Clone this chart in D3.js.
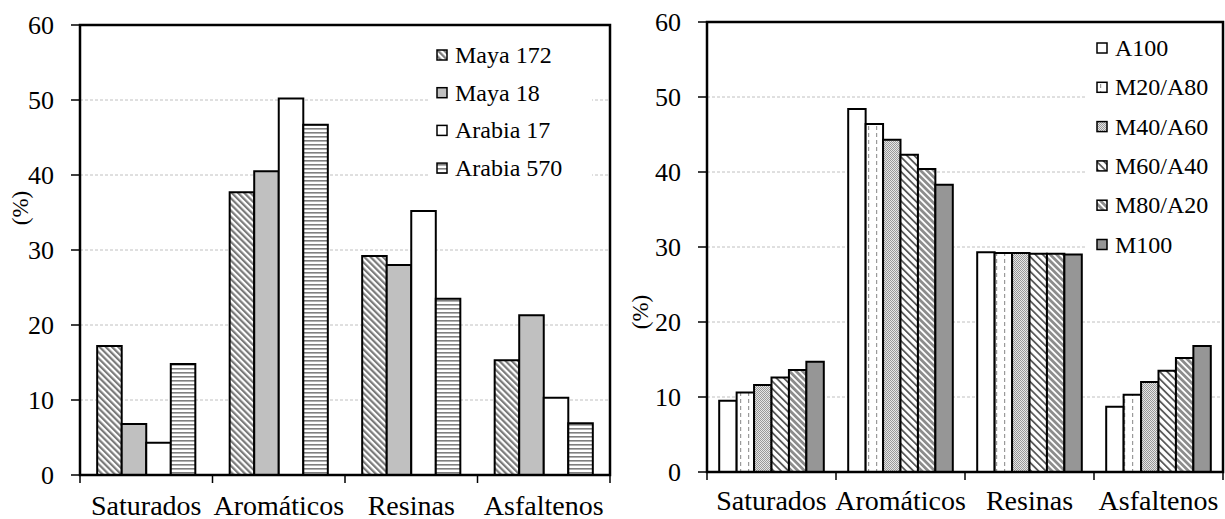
<!DOCTYPE html>
<html><head><meta charset="utf-8">
<script src="https://cdn.jsdelivr.net/npm/d3@7"></script>
</head>
<body style="margin:0">
<svg id="c" width="1225" height="519"></svg>
<script>
// ---- data ----
const categories = ["Saturados","Aromáticos","Resinas","Asfaltenos"];
const yTicks = [0,10,20,30,40,50,60];

const leftSeries = ["Maya 172","Maya 18","Arabia 17","Arabia 570"];
const maya172   = [17.2, 37.7, 29.2, 15.3];
const maya18    = [6.8, 40.5, 28.0, 21.3];
const arabia17  = [4.3, 50.2, 35.2, 10.3];
const arabia570 = [14.8, 46.7, 23.5, 6.9];

const rightSeries = ["A100","M20/A80","M40/A60","M60/A40","M80/A20","M100"];
const a100   = [9.5, 48.4, 29.3, 8.7];
const m20a80 = [10.6, 46.4, 29.2, 10.3];
const m40a60 = [11.6, 44.3, 29.2, 12.0];
const m60a40 = [12.6, 42.3, 29.1, 13.5];
const m80a20 = [13.6, 40.4, 29.1, 15.2];
const m100   = [14.7, 38.3, 29.0, 16.8];

const FONT = "Liberation Serif";
const svg = d3.select("#c");
const defs = svg.append("defs");

// patterns
function stripes(id, color, period, w, angle){
  const p = defs.append("pattern").attr("id",id).attr("patternUnits","userSpaceOnUse")
    .attr("width",period).attr("height",period).attr("patternTransform",`rotate(${angle})`);
  p.append("rect").attr("width",period).attr("height",period).attr("fill","#fff");
  p.append("rect").attr("width",w).attr("height",period).attr("fill",color);
}
stripes("pMaya172","#7a7a7a",4.4,2.2,-45);
stripes("pM60","#5a5a5a",5.2,1.8,-45);
stripes("pM80","#8c8c8c",4.6,2.8,-45);
(function(){
  const p = defs.append("pattern").attr("id","pHoriz").attr("patternUnits","userSpaceOnUse")
    .attr("width",4).attr("height",4);
  p.append("rect").attr("width",4).attr("height",4).attr("fill","#fff");
  p.append("rect").attr("width",4).attr("height",1.6).attr("fill","#808080");
})();
(function(){
  const p = defs.append("pattern").attr("id","pVdash").attr("patternUnits","userSpaceOnUse")
    .attr("width",8).attr("height",7);
  p.append("rect").attr("width",8).attr("height",7).attr("fill","#fff");
  p.append("rect").attr("x",4).attr("y",0).attr("width",1.2).attr("height",4).attr("fill","#9a9a9a");
})();
(function(){
  const p = defs.append("pattern").attr("id","pCheck").attr("patternUnits","userSpaceOnUse")
    .attr("width",2).attr("height",2);
  p.append("rect").attr("width",2).attr("height",2).attr("fill","#e6e6e6");
  p.append("rect").attr("width",1).attr("height",1).attr("fill","#999");
  p.append("rect").attr("x",1).attr("y",1).attr("width",1).attr("height",1).attr("fill","#999");
})();

const leftFills = ["url(#pMaya172)","#c0c0c0","#ffffff","url(#pHoriz)"];
const rightFills = ["#ffffff","url(#pVdash)","url(#pCheck)","url(#pM60)","url(#pM80)","#969696"];

function chart(cfg){
  const g = svg.append("g");
  const x0 = d3.scaleBand().domain(categories).range([cfg.x0,cfg.x1]).padding(0);
  const x1 = d3.scaleBand().domain(cfg.series).range([0,x0.bandwidth()]).paddingInner(0).paddingOuter(0.7);
  const y = d3.scaleLinear().domain([0,60]).range([cfg.y0,cfg.y1]);

  // grid
  g.append("g").selectAll("line").data(yTicks.filter(t=>t>0&&t<60)).join("line")
    .attr("x1",cfg.x0).attr("x2",cfg.x1).attr("y1",d=>y(d)).attr("y2",d=>y(d))
    .attr("stroke","#b0b0b0").attr("stroke-width",0.8).attr("stroke-dasharray","3,2");

  // legend background
  g.append("rect").attr("x",cfg.lgBox[0]).attr("y",cfg.lgBox[1]).attr("width",cfg.lgBox[2]).attr("height",cfg.lgBox[3]).attr("fill","#fff");

  // bars
  cfg.series.forEach((s,i)=>{
    g.append("g").selectAll("rect").data(categories.map((c,j)=>({c,v:cfg.values[i][j]}))).join("rect")
      .attr("x",d=>x0(d.c)+x1(s)).attr("width",x1.bandwidth())
      .attr("y",d=>y(d.v)).attr("height",d=>y(0)-y(d.v))
      .attr("fill",cfg.fills[i]).attr("stroke","#000").attr("stroke-width",2);
  });

  // y ticks and labels
  g.append("g").selectAll("line").data(yTicks).join("line")
    .attr("x1",cfg.x0-9).attr("x2",cfg.x0).attr("y1",d=>y(d)).attr("y2",d=>y(d))
    .attr("stroke","#000").attr("stroke-width",1.5);
  g.append("g").selectAll("text").data(yTicks).join("text")
    .attr("x",cfg.x0-26).attr("y",d=>y(d)).attr("dy","0.34em")
    .attr("text-anchor","end").attr("font-size",26).style("font-family",FONT)
    .text(d=>d);

  // x axis ticks at band edges + labels
  const edges = categories.map(c=>x0(c)).concat([cfg.x1]);
  g.append("g").selectAll("line").data(edges).join("line")
    .attr("x1",d=>d).attr("x2",d=>d).attr("y1",cfg.y0).attr("y2",cfg.y0+8)
    .attr("stroke","#000").attr("stroke-width",1.5);
  g.append("g").selectAll("text").data(categories).join("text")
    .attr("x",c=>x0(c)+x0.bandwidth()/2).attr("y",cfg.xlabY)
    .attr("text-anchor","middle").attr("font-size",28).style("font-family",FONT).text(c=>c);

  // frame
  g.append("rect").attr("x",cfg.x0).attr("y",cfg.y1).attr("width",cfg.x1-cfg.x0).attr("height",cfg.y0-cfg.y1)
    .attr("fill","none").attr("stroke","#000").attr("stroke-width",2.5);

  // y label
  g.append("text").attr("transform",`translate(${cfg.ylab[0]},${cfg.ylab[1]}) rotate(-90)`)
    .attr("text-anchor","middle").attr("font-size",23).style("font-family",FONT).text("(%)");

  // legend
  const lg = g.append("g");
  cfg.series.forEach((s,i)=>{
    const cy = cfg.lg[1] + i*cfg.lg[2];
    lg.append("rect").attr("x",cfg.lg[0]).attr("y",cy-5).attr("width",10).attr("height",10)
      .attr("fill",cfg.fills[i]).attr("stroke","#000").attr("stroke-width",1.5);
    lg.append("text").attr("x",cfg.lg[0]+18).attr("y",cy+8).attr("font-size",24)
      .style("font-family",FONT).text(s);
  });
}

chart({x0:80,x1:610,y0:475,y1:25,series:leftSeries,values:[maya172,maya18,arabia17,arabia570],
  fills:leftFills,xlabY:515,ylab:[28,208],lg:[437,55,37.7],lgBox:[428,32,164,158]});
chart({x0:707,x1:1223,y0:472,y1:22,series:rightSeries,values:[a100,m20a80,m40a60,m60a40,m80a20,m100],
  fills:rightFills,xlabY:510,ylab:[648,312],lg:[1097,48,39.3],lgBox:[1085,28,136,236]});
</script></body></html>
